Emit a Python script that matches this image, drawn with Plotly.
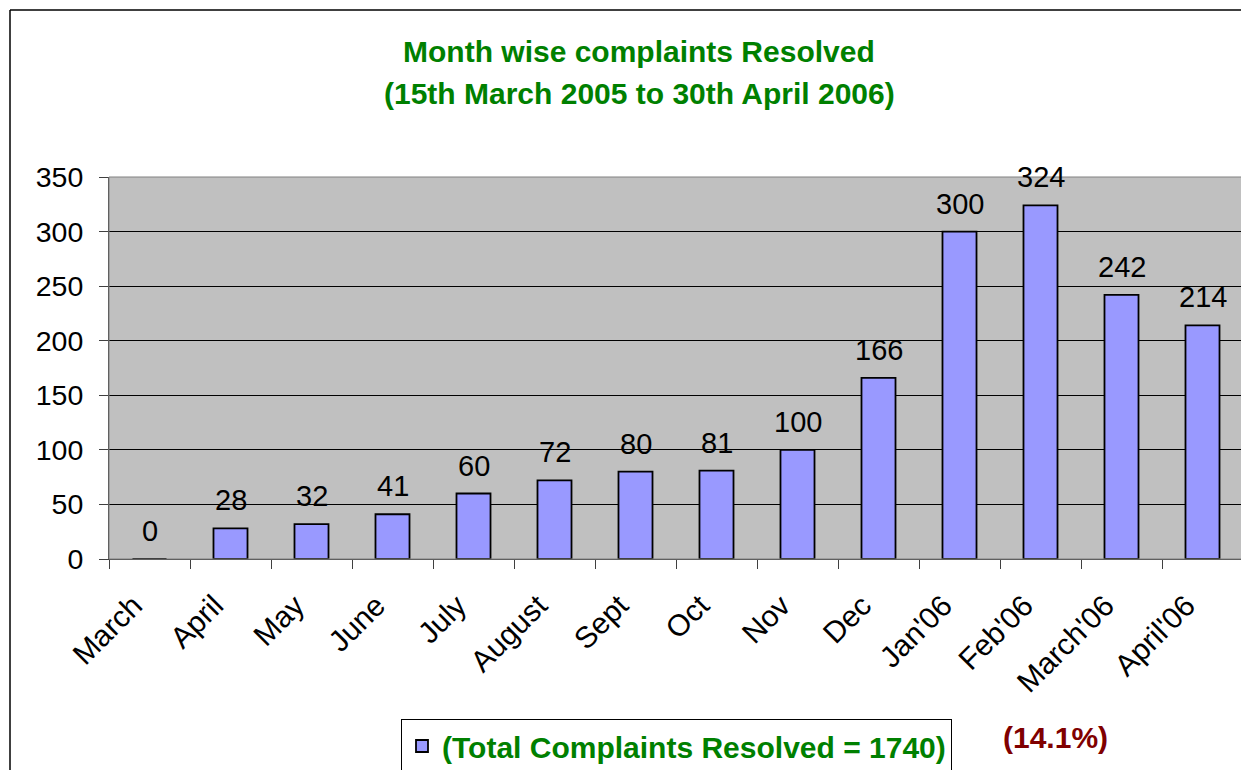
import plotly.graph_objects as go

months = ["March", "April", "May", "June", "July", "August", "Sept", "Oct",
          "Nov", "Dec", "Jan'06", "Feb'06", "March'06", "April'06"]
resolved = [0, 28, 32, 41, 60, 72, 80, 81, 100, 166, 300, 324, 242, 214]
series_name = "(Total Complaints Resolved = 1740)"
title_lines = ["Month wise complaints Resolved", "(15th March 2005 to 30th April 2006)"]
note_text = "(14.1%)"
y_ticks = [0, 50, 100, 150, 200, 250, 300, 350]

W, H = 1249, 770
OFF = 8  # page body margin offset
# desired on-screen plot area: x 109..1243, y 177..559
ML = 109 - OFF
MT = 177 - OFF
MR = W - (1243 - OFF)
MB = H - (559 - OFF)
PW = W - ML - MR
PH = H - MT - MB

def px_x(p):
    return (p - OFF - ML) / PW

def px_y(p):
    return (H - MB - (p - OFF)) / PH

FONT = "Arial, Liberation Sans, sans-serif"

fig = go.Figure()
fig.add_trace(go.Bar(
    x=months, y=resolved, name=series_name,
    marker=dict(color="#9999FF", line=dict(color="black", width=1.8)),
    showlegend=True,
))

# value labels above bars
for m, v in zip(months, resolved):
    fig.add_annotation(
        x=m, y=v, xref="x", yref="y", text=str(v), showarrow=False,
        xanchor="center", yanchor="bottom", yshift=10,
        font=dict(family=FONT, size=29, color="black"),
    )

fig.update_layout(
    width=W, height=H,
    margin=dict(l=ML, r=MR, t=MT, b=MB, autoexpand=False),
    paper_bgcolor="white", plot_bgcolor="#C0C0C0",
    bargap=0.58,
    showlegend=True,
    legend=dict(
        xref="container", yref="container",
        x=(401 - OFF) / W, y=1 - (719 - OFF) / H, xanchor="left", yanchor="top",
        bordercolor="black", borderwidth=1, bgcolor="white",
        font=dict(family=FONT, size=30, color="#008000", weight="bold"),
        itemwidth=30,
    ),
    xaxis=dict(
        type="category", tickangle=-45, ticks="outside", tickson="boundaries",
        ticklen=9, tickcolor="#404040", showline=True, linecolor="#404040", linewidth=1,
        tickfont=dict(family=FONT, size=30, color="black"), showgrid=False,
        ticklabelstandoff=16, ticklabelshift=-16,
        automargin=False,
    ),
    yaxis=dict(
        range=[0, 350], tickvals=y_ticks, ticks="outside", ticklen=9,
        tickcolor="#404040", showline=True, linecolor="#404040", linewidth=1,
        showgrid=True, gridcolor="black", gridwidth=1, zeroline=False,
        tickfont=dict(family=FONT, size=28.5, color="black"),
        ticklabelstandoff=10,
        automargin=False,
    ),
)

# plot area border (gray) and outer chart border
fig.add_shape(type="rect", xref="paper", yref="paper", x0=0, x1=1, y0=0, y1=1,
              line=dict(color="#808080", width=1), layer="above")
fig.add_shape(type="line", xref="paper", yref="paper",
              x0=px_x(10), x1=px_x(10), y0=px_y(10), y1=px_y(790),
              line=dict(color="black", width=1.5))
fig.add_shape(type="line", xref="paper", yref="paper",
              x0=px_x(10), x1=px_x(1270), y0=px_y(10), y1=px_y(10),
              line=dict(color="black", width=1.5))

for line_text, cy in zip(title_lines, [52, 93]):
    fig.add_annotation(
        text=line_text, xref="paper", yref="paper",
        x=px_x(639), y=px_y(cy), xanchor="center", yanchor="middle", showarrow=False,
        font=dict(family=FONT, size=30, color="#008000", weight="bold"),
    )

fig.add_annotation(
    text=note_text, xref="paper", yref="paper",
    x=px_x(1055), y=px_y(737), xanchor="center", yanchor="middle", showarrow=False,
    font=dict(family=FONT, size=30, color="#800000", weight="bold"),
)

fig.write_html("out.html")
